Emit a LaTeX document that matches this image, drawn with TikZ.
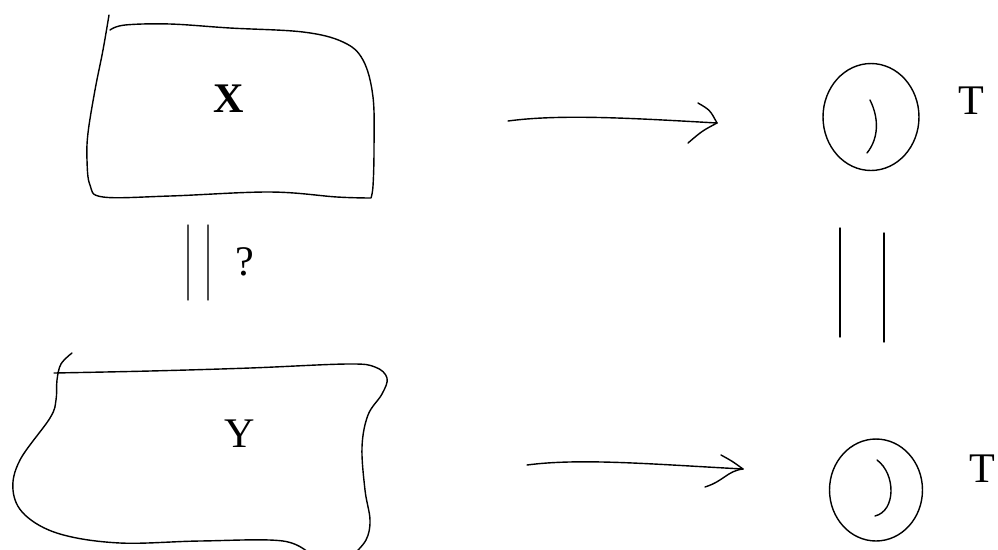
\documentclass[tikz,border=0pt]{standalone}
\usepackage{fontspec}
\setmainfont{Liberation Serif}
\usetikzlibrary{shapes.geometric}

\begin{document}
\begin{tikzpicture}[x=0.02cm, y=-0.02cm, line width=0.8pt, line cap=round, line join=round,
  lab/.style={font=\fontsize{24}{28}\selectfont, inner sep=0pt},
  labbf/.style={font=\fontsize{24}{28}\selectfont\bfseries, inner sep=0pt},
  sph/.style={draw, ellipse, line width=0.8pt, inner sep=0pt}]
  % frame: 1 unit = 1 pixel of the 998x549 sketch
  \useasboundingbox (0,0) rectangle (998,549);
  \clip (0,0) rectangle (998,549);

  % blob X (top left)
  \draw plot[smooth, tension=0.6] coordinates {(109,15) (103,50) (95,90) (88,133) (87,160) (90,185) (103,197) (170,196) (270,192) (337,197) (371,198)}
        plot[smooth, tension=0.6] coordinates {(371,198) (373,186) (374,150) (373,97) (363,60) (343,42) (303,32) (230,28) (170,24) (125,25) (110,30)};
  \node[labbf] (labX) at (229,99) {X};

  % blob Y (bottom left, runs out of the frame)
  \draw plot[smooth, tension=0.6] coordinates {(54,373) (150,371) (250,368) (347,364) (375,367) (387,378) (382,394) (368,415) (362,447) (365,490) (370,520) (366,540) (352,556)};
  \draw plot[smooth, tension=0.6] coordinates {(312,556) (283,541) (200,541) (120,543) (60,534) (25,515) (13,490) (20,460) (50,418) (56,400) (57,380) (61,364) (72,353)};
  \node[lab] (labY) at (240,434) {Y};

  % equality between the blobs, with doubt
  \draw[black!70] (188,225) -- (188,300);
  \draw[black!70] (208,225) -- (208,300);
  \node[lab] (labQ) at (245,262) {?};

  % maps to the circles
  \coordinate (arrXs) at (508,121);
  \coordinate (arrXe) at (717,123);
  \draw (arrXs) .. controls (560,114) and (630,118) .. (arrXe);
  \draw (698,103) .. controls (710,110) .. (arrXe);
  \draw (arrXe) .. controls (702,131) .. (688,143);

  \coordinate (arrYs) at (527,465);
  \coordinate (arrYe) at (743,469);
  \draw (arrYs) .. controls (580,458) and (650,464) .. (arrYe);
  \draw (721,455) .. controls (732,461) .. (arrYe);
  \draw (arrYe) .. controls (727,471) and (724,481) .. (705,487);

  % circles T
  \node[sph, minimum width=1.92cm, minimum height=2.14cm] (sphTa) at (871,117) {};
  \draw (870,100) .. controls (879,118) and (879,138) .. (867,153);
  \node[lab] (labTa) at (971,101) {T};

  \node[sph, minimum width=1.86cm, minimum height=2.04cm] (sphTb) at (876,490) {};
  \draw (877,460) .. controls (896,474) and (896,511) .. (875,516);
  \node[lab] (labTb) at (982,469) {T};

  % equality between the circles
  \draw (840,228) -- (840,337);
  \draw (884,233) -- (884,342);
\end{tikzpicture}
\end{document}
